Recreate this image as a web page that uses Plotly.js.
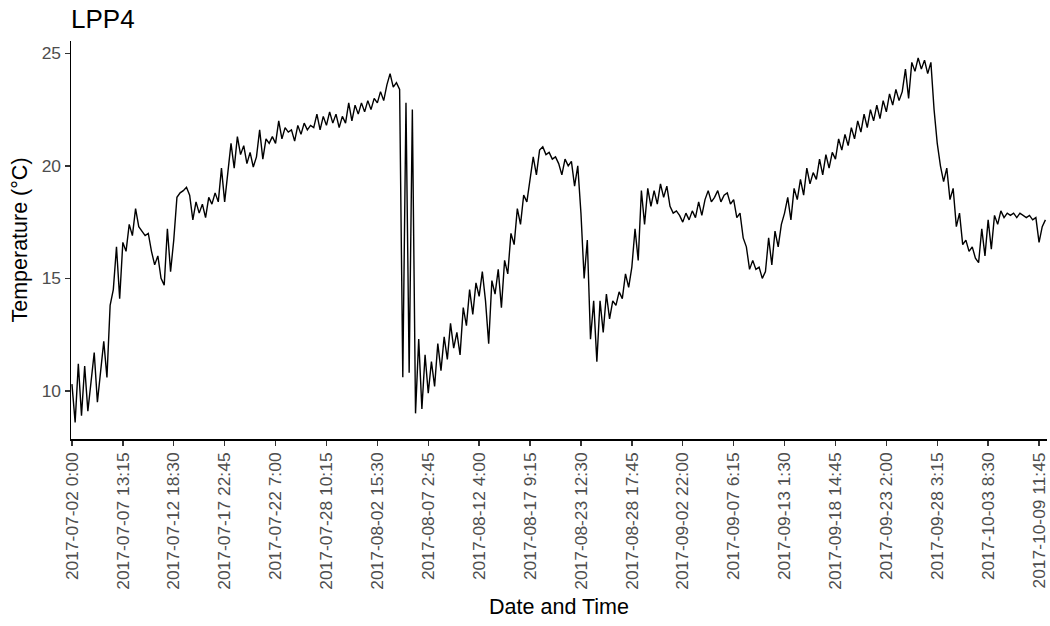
<!DOCTYPE html>
<html>
<head>
<meta charset="utf-8">
<script src="https://cdn.plot.ly/plotly-3.0.1.min.js"></script>
<style>
  html, body { margin: 0; padding: 0; background: #ffffff; }
  #chart { width: 1050px; height: 626px; }
</style>
</head>
<body>
<div id="chart"></div>
<script>
// ---- data ----
const chartTitle = 'LPP4';
const xTitle = 'Date and Time';
const yTitle = 'Temperature (°C)';

// labelled timestamps shown on the x axis (equally spaced in reading order)
const tickLabels = [
  '2017-07-02 0:00', '2017-07-07 13:15', '2017-07-12 18:30', '2017-07-17 22:45',
  '2017-07-22 7:00', '2017-07-28 10:15', '2017-08-02 15:30', '2017-08-07 2:45',
  '2017-08-12 4:00', '2017-08-17 9:15', '2017-08-23 12:30', '2017-08-28 17:45',
  '2017-09-02 22:00', '2017-09-07 6:15', '2017-09-13 1:30', '2017-09-18 14:45',
  '2017-09-23 2:00', '2017-09-28 3:15', '2017-10-03 8:30', '2017-10-09 11:45'
];

// y axis ticks
const yTicks = [10, 15, 20, 25];

// number of sampled readings between two labelled timestamps
const readingsPerLabel = 16;

// sampled temperatures, one row per labelled stretch
const tempJul02 = [10.3, 8.6, 11.2, 8.9, 11.1, 9.1, 10.4, 11.7, 9.5, 11.0, 12.2, 10.6, 13.8, 14.5, 16.4, 14.1];
const tempJul07 = [16.6, 16.2, 17.4, 16.9, 18.1, 17.3, 17.1, 16.9, 17.0, 16.2, 15.6, 16.0, 15.0, 14.7, 17.2, 15.3];
const tempJul12 = [16.7, 18.6, 18.8, 18.9, 19.05, 18.7, 17.6, 18.4, 17.9, 18.3, 17.7, 18.6, 18.3, 18.8, 18.4, 19.9];
const tempJul17 = [18.4, 19.6, 21.0, 19.9, 21.3, 20.5, 20.9, 20.1, 20.6, 19.95, 20.4, 21.6, 20.3, 21.2, 21.0, 21.3];
const tempJul22 = [21.0, 22.0, 21.2, 21.7, 21.5, 21.6, 21.1, 21.8, 21.4, 21.9, 21.6, 21.8, 21.7, 22.3, 21.6, 22.2];
const tempJul28 = [21.8, 22.4, 21.9, 22.3, 21.7, 22.2, 21.9, 22.8, 22.0, 22.7, 22.3, 22.8, 22.4, 22.9, 22.5, 23.0];
const tempAug02 = [22.8, 23.3, 22.9, 23.6, 24.1, 23.5, 23.7, 23.4, 10.6, 22.8, 10.8, 22.5, 9.0, 12.3, 9.2, 11.6];
const tempAug07 = [9.9, 11.3, 10.2, 12.1, 10.9, 12.4, 11.4, 13.0, 11.9, 12.6, 11.6, 13.7, 12.9, 14.5, 13.4, 14.8];
const tempAug12 = [14.2, 15.3, 14.0, 12.1, 14.9, 14.3, 15.4, 13.7, 15.8, 15.2, 17.0, 16.5, 18.1, 17.4, 18.7, 18.4];
const tempAug17 = [19.3, 20.4, 19.6, 20.7, 20.85, 20.5, 20.6, 20.3, 20.4, 20.1, 19.6, 20.3, 20.0, 20.2, 19.1, 20.0];
const tempAug23 = [17.9, 15.0, 16.7, 12.3, 14.0, 11.3, 14.0, 12.6, 14.3, 13.2, 14.0, 13.8, 14.4, 14.1, 15.2, 14.6];
const tempAug28 = [15.5, 17.2, 15.8, 18.9, 17.4, 19.0, 18.2, 18.9, 18.3, 19.2, 18.6, 19.1, 18.2, 17.9, 18.0, 17.8];
const tempSep02 = [17.5, 17.9, 17.6, 18.0, 17.7, 18.4, 17.8, 18.5, 18.9, 18.4, 18.6, 18.9, 18.4, 18.7, 18.8, 18.3];
const tempSep07 = [18.5, 17.7, 17.9, 16.8, 16.4, 15.4, 15.8, 15.4, 15.5, 15.0, 15.3, 16.8, 15.6, 17.1, 16.4, 17.4];
const tempSep13 = [17.9, 18.6, 17.6, 19.0, 18.5, 19.4, 18.7, 19.9, 19.2, 19.7, 19.4, 20.3, 19.6, 20.5, 19.9, 20.6];
const tempSep18 = [20.3, 21.2, 20.7, 21.4, 20.9, 21.7, 21.2, 22.0, 21.5, 22.3, 21.7, 22.5, 22.0, 22.7, 22.1, 22.9];
const tempSep23 = [22.4, 23.2, 22.7, 23.4, 22.9, 23.3, 24.3, 23.0, 24.6, 24.2, 24.8, 24.3, 24.7, 24.1, 24.6, 22.5];
const tempSep28 = [21.0, 20.0, 19.3, 19.9, 18.5, 19.0, 17.3, 17.9, 16.5, 16.7, 16.2, 16.4, 15.9, 15.7, 17.2, 16.0];
const tempOct03 = [17.6, 16.3, 17.8, 17.4, 18.0, 17.7, 17.9, 17.8, 17.9, 17.7, 17.9, 17.8, 17.7, 17.8, 17.6, 17.7];
const tempOct09 = [16.6, 17.3, 17.6];

// ---- build the trace ----
const temperature = [].concat(
  tempJul02, tempJul07, tempJul12, tempJul17, tempJul22, tempJul28,
  tempAug02, tempAug07, tempAug12, tempAug17, tempAug23, tempAug28,
  tempSep02, tempSep07, tempSep13, tempSep18, tempSep23, tempSep28,
  tempOct03, tempOct09
);
const readingIndex = temperature.map((_, i) => i);
const tickPositions = tickLabels.map((_, k) => k * readingsPerLabel);

const fontFamily = 'Liberation Sans, Arial, Helvetica, sans-serif';

const trace = {
  type: 'scatter',
  mode: 'lines',
  x: readingIndex,
  y: temperature,
  line: { color: '#000000', width: 1.4, shape: 'linear' },
  hoverinfo: 'skip',
  showlegend: false
};

const layout = {
  width: 1050,
  height: 626,
  paper_bgcolor: '#ffffff',
  plot_bgcolor: '#ffffff',
  margin: { l: 71, r: 3, t: 41, b: 187, pad: 0 },
  font: { family: fontFamily, color: '#000000' },
  title: {
    text: chartTitle,
    font: { family: fontFamily, size: 26, color: '#000000' },
    x: 0, xref: 'paper', xanchor: 'left',
    y: 1 - 19 / 626, yref: 'container', yanchor: 'middle',
    pad: { l: 0, r: 0, t: 0, b: 0 }
  },
  xaxis: {
    range: [-0.3, temperature.length - 0.5],
    tickmode: 'array',
    tickvals: tickPositions,
    ticktext: tickLabels,
    tickangle: -90,
    tickfont: { family: fontFamily, size: 17.4, color: '#4D4D4D' },
    ticks: 'outside', ticklen: 5, tickwidth: 1.4, tickcolor: '#333333',
    showline: true, linecolor: '#000000', linewidth: 1.5,
    showgrid: false, zeroline: false,
    title: { text: xTitle, font: { family: fontFamily, size: 21.5, color: '#000000' }, standoff: 10 }
  },
  yaxis: {
    range: [7.86, 25.55],
    tickmode: 'array',
    tickvals: yTicks,
    ticktext: yTicks.map(String),
    tickfont: { family: fontFamily, size: 17.4, color: '#4D4D4D' },
    ticks: 'outside', ticklen: 5, tickwidth: 1.4, tickcolor: '#333333',
    showline: true, linecolor: '#000000', linewidth: 1.5,
    showgrid: false, zeroline: false,
    title: { text: yTitle, font: { family: fontFamily, size: 21.5, color: '#000000' }, standoff: 8 }
  }
};

Plotly.newPlot('chart', [trace], layout, { displayModeBar: false, staticPlot: true });
</script>
</body>
</html>
